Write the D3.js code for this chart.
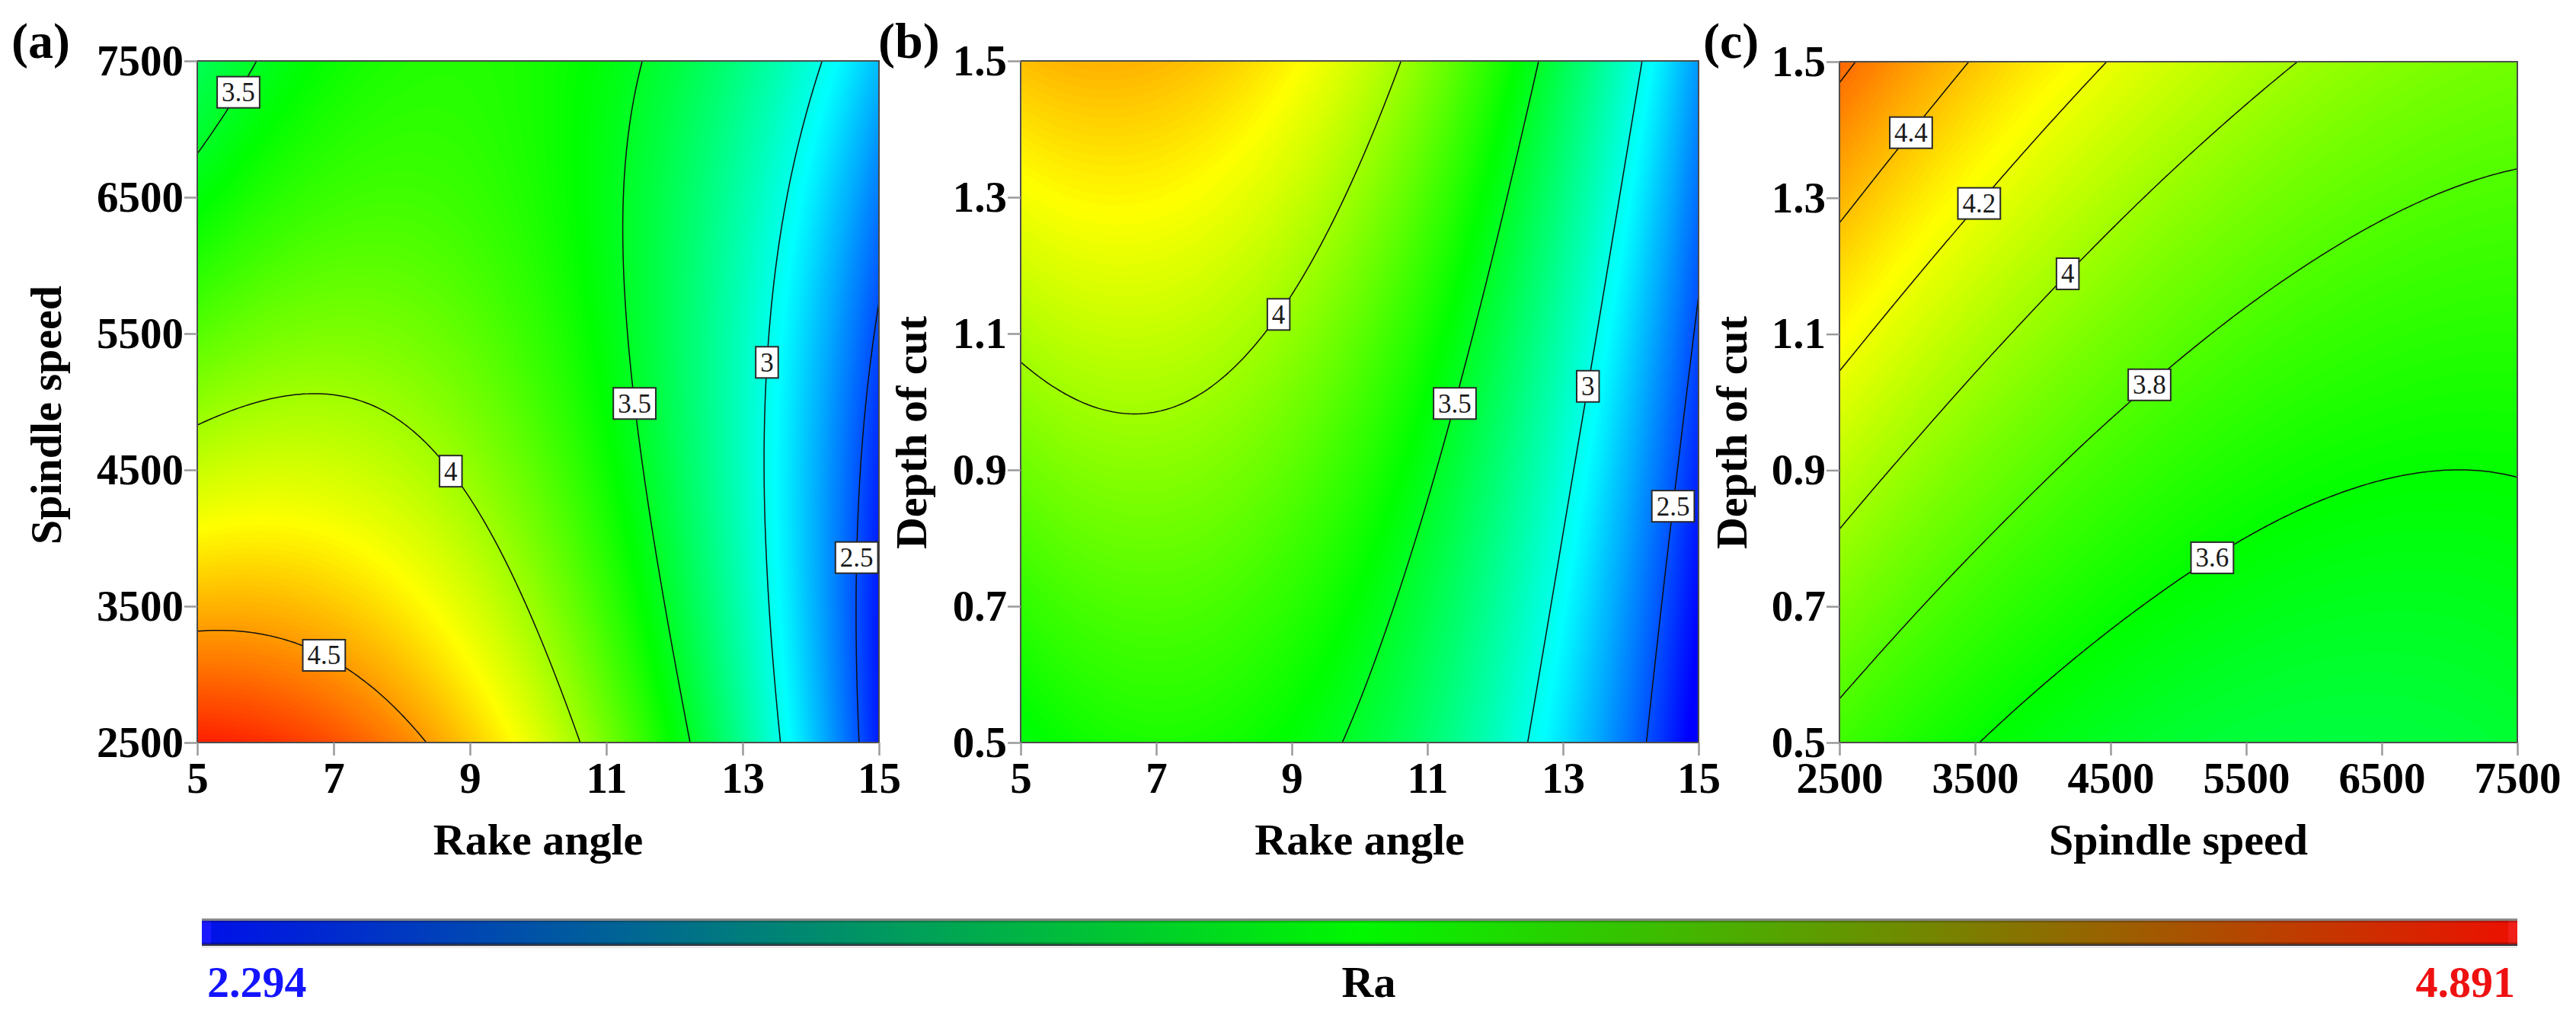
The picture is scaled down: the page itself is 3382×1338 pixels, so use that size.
<!DOCTYPE html>
<html>
<head>
<meta charset="utf-8">
<script src="https://cdn.jsdelivr.net/npm/d3@7/dist/d3.min.js"></script>
<style>
  html, body { margin: 0; padding: 0; background: #ffffff; }
  svg { display: block; }
</style>
</head>
<body>
<svg id="chart" width="3382" height="1338"></svg>
<script>
// ---------------- DATA ----------------
const rakeAngle    = [5, 7, 9, 11, 13, 15];
const spindleSpeed = [2500, 3500, 4500, 5500, 6500, 7500];
const depthOfCut   = [0.5, 0.7, 0.9, 1.1, 1.3, 1.5];

// Ra read on the tick grid. rows = y ticks (low -> high), columns = x ticks (low -> high)
// (a) x: rake angle, y: spindle speed
const raRakeSpeed = [
  [4.814, 4.689, 4.382, 3.892, 3.219, 2.364],
  [4.434, 4.384, 4.151, 3.735, 3.137, 2.356],
  [4.100, 4.124, 3.965, 3.624, 3.099, 2.393],
  [3.811, 3.909, 3.825, 3.558, 3.108, 2.475],
  [3.568, 3.740, 3.730, 3.537, 3.161, 2.603],
  [3.370, 3.617, 3.681, 3.562, 3.260, 2.776]
];
// (b) x: rake angle, y: depth of cut
const raRakeDepth = [
  [3.558, 3.659, 3.577, 3.313, 2.866, 2.236],
  [3.707, 3.792, 3.695, 3.414, 2.951, 2.305],
  [3.867, 3.936, 3.822, 3.526, 3.046, 2.385],
  [4.036, 4.089, 3.959, 3.647, 3.152, 2.474],
  [4.215, 4.252, 4.106, 3.778, 3.267, 2.573],
  [4.404, 4.425, 4.263, 3.919, 3.392, 2.682]
];
// (c) x: spindle speed, y: depth of cut
const raSpeedDepth = [
  [3.751, 3.604, 3.502, 3.446, 3.435, 3.469],
  [3.907, 3.741, 3.621, 3.546, 3.516, 3.532],
  [4.073, 3.889, 3.749, 3.655, 3.607, 3.604],
  [4.249, 4.046, 3.888, 3.775, 3.708, 3.686],
  [4.435, 4.213, 4.036, 3.905, 3.819, 3.779],
  [4.631, 4.390, 4.195, 4.045, 3.940, 3.881]
];

const levelsRakeSpeed  = [2.5, 3, 3.5, 4, 4.5];
const levelsRakeDepth  = [2.5, 3, 3.5, 4];
const levelsSpeedDepth = [3.6, 3.8, 4, 4.2, 4.4, 4.6];

// contour labels: [level, x near, y near]
const labelsRakeSpeed  = [[3.5, 5.5, 7290], [4, 8.83, 4545], [4.5, 6.94, 3244], [3.5, 11.47, 4990], [3, 13.37, 5300], [2.5, 14.69, 3850]];
const labelsRakeDepth  = [[4, 8.73, 1.134], [3.5, 11.35, 1.0], [3, 13.35, 1.023], [2.5, 14.61, 0.845]];
const labelsSpeedDepth = [[4.4, 2986, 1.403], [4.2, 3494, 1.297], [4, 4152, 1.197], [3.8, 4753, 1.034], [3.6, 5211, 0.785]];

const raMin = 2.294, raMax = 4.891;
const colorStops = [0, 0.25, 0.5, 0.75, 1];
const colorRange = ['#0000ff', '#00ffff', '#00ff00', '#ffff00', '#ff0000'];
const colorbarColors = ['#0010ea', '#00f800', '#ec1000'];

// ---------------- HELPERS ----------------
const FONT = "'Liberation Serif','Times New Roman',serif";
const svg = d3.select('#chart');
const defs = svg.append('defs');

const color = d3.scaleLinear()
  .domain(colorStops.map(t => raMin + t * (raMax - raMin)))
  .range(colorRange)
  .clamp(true);

function ext(arr, k) {
  const n = arr.length;
  if (k < 0) return 3 * arr[0] - 3 * arr[1] + arr[2];
  if (k > n - 1) return 3 * arr[n - 1] - 3 * arr[n - 2] + arr[n - 3];
  return arr[k];
}
function cr(p0, p1, p2, p3, t) {
  return 0.5 * (2 * p1 + (-p0 + p2) * t + (2 * p0 - 5 * p1 + 4 * p2 - p3) * t * t + (-p0 + 3 * p1 - 3 * p2 + p3) * t * t * t);
}
function interp1(arr, f) {
  let k = Math.floor(f);
  if (k >= arr.length - 1) k = arr.length - 2;
  if (k < 0) k = 0;
  const t = f - k;
  return cr(ext(arr, k - 1), ext(arr, k), ext(arr, k + 1), ext(arr, k + 2), t);
}
function sampleGrid(grid, fx, fy) {
  const col = grid.map(row => interp1(row, fx));
  return interp1(col, fy);
}
function buildField(grid, N) {
  const rows = grid.length, cols = grid[0].length;
  const values = new Float64Array(N * N);
  for (let j = 0; j < N; j++) {
    const fy = j / (N - 1) * (rows - 1);
    for (let i = 0; i < N; i++) {
      const fx = i / (N - 1) * (cols - 1);
      values[j * N + i] = sampleGrid(grid, fx, fy);
    }
  }
  return values;
}

const panels = [
  { grid: raRakeSpeed, xTicks: rakeAngle, yTicks: spindleSpeed, levels: levelsRakeSpeed, labels: labelsRakeSpeed,
    xTitle: 'Rake angle', yTitle: 'Spindle speed', box: [259, 80, 1154, 975],
    yTitleX: 80, yTitleY: 545, tag: '(a)', tagX: 15, xFmt: d3.format('d'), yFmt: d3.format('d') },
  { grid: raRakeDepth, xTicks: rakeAngle, yTicks: depthOfCut, levels: levelsRakeDepth, labels: labelsRakeDepth,
    xTitle: 'Rake angle', yTitle: 'Depth of cut', box: [1340, 80, 2230, 975],
    yTitleX: 1216, yTitleY: 568, tag: '(b)', tagX: 1153, xFmt: d3.format('d'), yFmt: d3.format('.1f') },
  { grid: raSpeedDepth, xTicks: spindleSpeed, yTicks: depthOfCut, levels: levelsSpeedDepth, labels: labelsSpeedDepth,
    xTitle: 'Spindle speed', yTitle: 'Depth of cut', box: [2415, 81, 3305, 975],
    yTitleX: 2293, yTitleY: 568, tag: '(c)', tagX: 2236, xFmt: d3.format('d'), yFmt: d3.format('.1f') }
];

const bandStep = 0.0125;
const bandThresholds = d3.range(2.2, 4.9, bandStep);
const N = 200;

panels.forEach((p, pi) => {
  const [x0, y0, x1, y1] = p.box;
  const xs = d3.scaleLinear().domain(d3.extent(p.xTicks)).range([x0, x1]);
  const ys = d3.scaleLinear().domain(d3.extent(p.yTicks)).range([y1, y0]);
  const [xd0, xd1] = xs.domain();
  const [yd0, yd1] = ys.domain();

  const clipId = 'clip' + pi;
  defs.append('clipPath').attr('id', clipId)
    .append('rect').attr('x', x0).attr('y', y0).attr('width', x1 - x0).attr('height', y1 - y0);

  const values = buildField(p.grid, N);
  const toPx = (px, py) => [
    xs(xd0 + (px - 0.5) / (N - 1) * (xd1 - xd0)),
    ys(yd0 + (py - 0.5) / (N - 1) * (yd1 - yd0))
  ];
  const proj = d3.geoTransform({
    point: function (px, py) { const q = toPx(px, py); this.stream.point(q[0], q[1]); }
  });
  const path = d3.geoPath(proj);

  const g = svg.append('g');
  const plot = g.append('g').attr('clip-path', `url(#${clipId})`);

  plot.append('rect').attr('x', x0).attr('y', y0).attr('width', x1 - x0).attr('height', y1 - y0)
    .attr('fill', color(d3.min(values)));

  const bands = d3.contours().size([N, N]).thresholds(bandThresholds)(values);
  plot.selectAll('path.band').data(bands).join('path')
    .attr('class', 'band')
    .attr('d', path)
    .attr('fill', d => color(d.value + bandStep / 2))
    .attr('stroke', 'none');

  const lines = d3.contours().size([N, N]).thresholds(p.levels)(values);
  plot.selectAll('path.cline').data(lines).join('path')
    .attr('class', 'cline')
    .attr('d', path)
    .attr('fill', 'none')
    .attr('stroke', '#101010')
    .attr('stroke-width', 1.5);

  // frame
  g.append('rect').attr('x', x0).attr('y', y0).attr('width', x1 - x0).attr('height', y1 - y0)
    .attr('fill', 'none').attr('stroke', '#4d4d4d').attr('stroke-width', 2);

  // contour labels
  const labG = g.append('g');
  p.labels.forEach(([lev, tx, ty]) => {
    const geom = lines.find(l => l.value === lev);
    if (!geom) return;
    const tpx = xs(tx), tpy = ys(ty);
    let best = null, bestD = Infinity;
    geom.coordinates.forEach(poly => poly.forEach(ring => ring.forEach(pt => {
      const q = toPx(pt[0], pt[1]);
      if (q[0] < x0 + 5 || q[0] > x1 - 5 || q[1] < y0 + 5 || q[1] > y1 - 5) return;
      const d = (q[0] - tpx) ** 2 + (q[1] - tpy) ** 2;
      if (d < bestD) { bestD = d; best = q; }
    })));
    if (!best) best = [tpx, tpy];
    const lg = labG.append('g').attr('transform', `translate(${best[0]},${best[1]})`);
    const rect = lg.append('rect');
    const txt = lg.append('text')
      .attr('text-anchor', 'middle')
      .attr('dy', '0.34em')
      .attr('font-family', FONT)
      .attr('font-size', 35)
      .attr('fill', '#1a1a1a')
      .text(d3.format('')(lev));
    const w = txt.node().getComputedTextLength() + 12;
    const h = 41;
    rect.attr('x', -w / 2).attr('y', -h / 2).attr('width', w).attr('height', h)
      .attr('fill', '#ffffff').attr('stroke', '#2a2a2a').attr('stroke-width', 2);
  });

  // axes
  const ax = g.append('g').attr('transform', `translate(0,${y1})`)
    .call(d3.axisBottom(xs).tickValues(p.xTicks).tickFormat(p.xFmt).tickSize(17).tickPadding(9));
  ax.select('.domain').remove();
  ax.selectAll('line').attr('stroke', '#9a9a9a').attr('stroke-width', 2.5);
  ax.attr('font-family', FONT).attr('font-size', 57).attr('font-weight', 'bold');
  ax.selectAll('text').attr('fill', '#000');

  const ay = g.append('g').attr('transform', `translate(${x0},0)`)
    .call(d3.axisLeft(ys).tickValues(p.yTicks).tickFormat(p.yFmt).tickSize(17).tickPadding(1));
  ay.select('.domain').remove();
  ay.selectAll('line').attr('stroke', '#9a9a9a').attr('stroke-width', 2.5);
  ay.attr('font-family', FONT).attr('font-size', 57).attr('font-weight', 'bold');
  ay.selectAll('text').attr('fill', '#000');

  // titles
  g.append('text')
    .attr('x', (x0 + x1) / 2).attr('y', 1122)
    .attr('text-anchor', 'middle')
    .attr('font-family', FONT).attr('font-size', 58).attr('font-weight', 'bold')
    .text(p.xTitle);
  g.append('text')
    .attr('transform', `translate(${p.yTitleX},${p.yTitleY}) rotate(-90)`)
    .attr('text-anchor', 'middle')
    .attr('font-family', FONT).attr('font-size', 58).attr('font-weight', 'bold')
    .text(p.yTitle);
  g.append('text')
    .attr('x', p.tagX).attr('y', 76)
    .attr('font-family', FONT).attr('font-size', 66).attr('font-weight', 'bold')
    .text(p.tag);
});

// ---------------- COLOUR BAR ----------------
const cbX0 = 265, cbX1 = 3305, cbY = 1208, cbH = 33;
const cbScale = d3.scaleLinear().domain([raMin, raMax]).range([cbX0, cbX1]);

const grad = defs.append('linearGradient').attr('id', 'cbGrad')
  .attr('x1', '0%').attr('x2', '100%').attr('y1', '0%').attr('y2', '0%');
colorbarColors.forEach((c, i) => {
  grad.append('stop').attr('offset', (i / (colorbarColors.length - 1) * 100) + '%').attr('stop-color', c);
});
const shade = defs.append('linearGradient').attr('id', 'cbShade')
  .attr('x1', '0%').attr('x2', '0%').attr('y1', '0%').attr('y2', '100%');
[[0, 0.35], [0.14, 0], [0.86, 0], [1, 0.5]].forEach(([o, a]) => {
  shade.append('stop').attr('offset', (o * 100) + '%').attr('stop-color', '#000').attr('stop-opacity', a);
});

const cb = svg.append('g');
cb.append('rect').attr('x', cbScale(raMin)).attr('y', cbY).attr('width', cbScale(raMax) - cbScale(raMin)).attr('height', cbH)
  .attr('fill', 'url(#cbGrad)');
cb.append('rect').attr('x', cbScale(raMin)).attr('y', cbY).attr('width', 12).attr('height', cbH).attr('fill', '#1a1aff');
cb.append('rect').attr('x', cbScale(raMax) - 12).attr('y', cbY).attr('width', 12).attr('height', cbH).attr('fill', '#f02018');
cb.append('rect').attr('x', cbScale(raMin)).attr('y', cbY).attr('width', cbScale(raMax) - cbScale(raMin)).attr('height', cbH)
  .attr('fill', 'url(#cbShade)');
cb.append('line').attr('x1', cbScale(raMin)).attr('x2', cbScale(raMax)).attr('y1', cbY - 0.5).attr('y2', cbY - 0.5)
  .attr('stroke', '#8a8a8a').attr('stroke-width', 3);
cb.append('line').attr('x1', cbScale(raMin)).attr('x2', cbScale(raMax)).attr('y1', cbY + cbH).attr('y2', cbY + cbH)
  .attr('stroke', '#3a3a44').attr('stroke-width', 2);
cb.append('line').attr('x1', cbScale(raMin)).attr('x2', cbScale(raMax)).attr('y1', cbY + cbH + 2.5).attr('y2', cbY + cbH + 2.5)
  .attr('stroke', '#e6e6e6').attr('stroke-width', 2);

cb.append('text').attr('x', cbScale(raMin) + 7).attr('y', 1309)
  .attr('font-family', FONT).attr('font-size', 58).attr('font-weight', 'bold')
  .attr('fill', '#1414ff').text(d3.format('.3f')(raMin));
cb.append('text').attr('x', cbScale(raMax) - 3).attr('y', 1309).attr('text-anchor', 'end')
  .attr('font-family', FONT).attr('font-size', 58).attr('font-weight', 'bold')
  .attr('fill', '#ee1111').text(d3.format('.3f')(raMax));
cb.append('text').attr('x', 1797).attr('y', 1309).attr('text-anchor', 'middle')
  .attr('font-family', FONT).attr('font-size', 58).attr('font-weight', 'bold')
  .attr('fill', '#000').text('Ra');
</script>
</body>
</html>
